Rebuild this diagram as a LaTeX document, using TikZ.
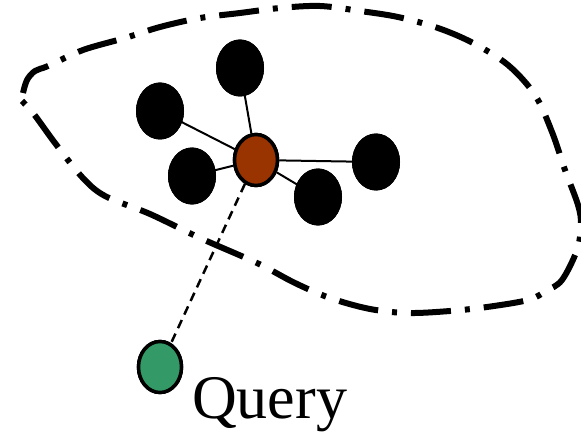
\documentclass[tikz,border=0pt]{standalone}
\usepackage{fontspec}
\setmainfont{Liberation Serif}
\usetikzlibrary{shapes.geometric}
\definecolor{hubbrown}{HTML}{993300}
\definecolor{querygreen}{HTML}{339966}
\tikzset{
  peer/.style={ellipse, fill=black, inner sep=0pt, minimum width=48pt, minimum height=57pt},
  hub/.style={ellipse, fill=hubbrown, draw=black, line width=3.5pt, inner sep=0pt, minimum width=43pt, minimum height=51pt},
  querynode/.style={ellipse, fill=querygreen, draw=black, line width=3.5pt, inner sep=0pt, minimum width=43pt, minimum height=51pt},
  link/.style={line width=2pt},
  qlink/.style={line width=2.5pt, dash pattern=on 9pt off 6pt},
  region/.style={line width=6pt, dash pattern=on 40pt off 14pt on 5pt off 14pt}
}
\begin{document}
\begin{tikzpicture}[x=1pt, y=-1pt]
\useasboundingbox (0,0) rectangle (581,433);

% cluster boundary
\draw[region] plot[smooth, tension=0.55] coordinates {
  (23,93) (27,80) (35,71) (48,66) (83,50) (125,38) (160,27) (200,18)
  (240,13) (280,8) (320,6) (360,11) (398,17) (438,28) (473,43) (508,65)
  (535,95) (552,132) (565,170) (578,205) (581,225) (577,250) (562,280)
  (546,291) (528,300) (487,307) (450,311) (408,313) (370,309) (330,298)
  (295,283) (257,263) (200,238) (150,214) (105,196)
  (82,177) (55,143) (33,113) (18,97)};

% nodes
\node[hub] (h) at (256,160) {};
\node[peer] (p1) at (240,68) {};
\node[peer] (p2) at (160,111) {};
\node[peer] (p3) at (192,176) {};
\node[peer] (p4) at (318,197) {};
\node[peer] (p5) at (376,162) {};
\node[querynode] (q) at (160,367) {};

% links from the hub
\draw[link] (p1.center) -- (h);
\draw[link] (p2.center) -- (h);
\draw[link] (p3.center) -- (h);
\draw[link] (p4.center) -- (h);
\draw[link] (p5.center) -- (h);
\draw[qlink] (h) -- (q);

% redraw nodes over the links
\node[peer] at (p1) {};
\node[peer] at (p2) {};
\node[peer] at (p3) {};
\node[peer] at (p4) {};
\node[peer] at (p5) {};
\node[hub] at (h) {};
\node[querynode] at (q) {};

\node[anchor=base west, inner sep=0pt, font=\fontsize{62}{70}\selectfont] (ql) at (192,418) {Query};
\end{tikzpicture}
\end{document}
